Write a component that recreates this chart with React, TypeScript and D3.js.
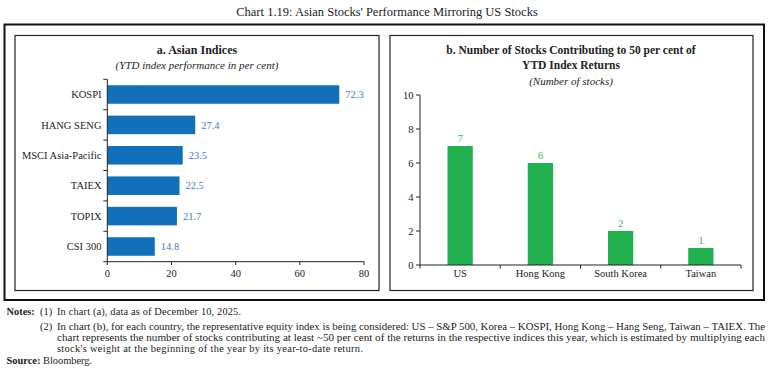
import React from 'react';
import * as d3 from 'd3';

const indexNames = ['KOSPI', 'HANG SENG', 'MSCI Asia-Pacific', 'TAIEX', 'TOPIX', 'CSI 300'];
const indexReturns = [72.3, 27.4, 23.5, 22.5, 21.7, 14.8];
const xTicksA = [0, 20, 40, 60, 80];

const countries = ['US', 'Hong Kong', 'South Korea', 'Taiwan'];
const stockCounts = [7, 6, 2, 1];
const yTicksB = [0, 2, 4, 6, 8, 10];

const FONT = '"Liberation Serif", "DejaVu Serif", serif';
const BLUE = '#1170B9';
const BLUE_LABEL = '#4679C2';
const GREEN = '#21B24F';
const GREEN_LABEL = '#3DB65C';
const INK = '#222';

export default function App() {
  // Panel a
  const xA = d3.scaleLinear().domain([0, 80]).range([107.3, 364]);
  const yA = d3.scaleBand<string>().domain(indexNames).range([79.3, 261.7]).paddingInner(0.39).paddingOuter(0.195);
  const stepA = yA.step();
  const boundariesA = d3.range(indexNames.length + 1).map((i) => 79.3 + i * stepA);

  // Panel b
  const xB = d3.scaleBand<string>().domain(countries).range([420, 741]).paddingInner(0.685).paddingOuter(0.3425);
  const stepB = xB.step();
  const boundariesB = d3.range(countries.length + 1).map((i) => 420 + i * stepB);
  const yB = d3.scaleLinear().domain([0, 10]).range([265, 95]);

  return (
    <svg width={771} height={377} style={{ position: 'absolute', left: 0, top: 0, background: '#fff' }} fontFamily={FONT}>
      <rect x={0} y={0} width={771} height={377} fill="#fff" />
      <text x={387} y={15.5} textAnchor="middle" fontSize={12.5} fill={INK}>
        Chart 1.19: Asian Stocks' Performance Mirroring US Stocks
      </text>
      {/* frames */}
      <rect x={4.5} y={24.5} width={759.5} height={275.5} fill="none" stroke="#111" strokeWidth={2} />
      <rect x={15} y={35.5} width={364} height={255} fill="none" stroke={INK} strokeWidth={1.2} />
      <rect x={390} y={35.5} width={363} height={255} fill="none" stroke={INK} strokeWidth={1.2} />

      {/* Panel a */}
      <text x={197} y={54} textAnchor="middle" fontSize={12} fontWeight="bold" fill={INK}>a. Asian Indices</text>
      <text x={197} y={68.5} textAnchor="middle" fontSize={11} fontStyle="italic" fill={INK}>(YTD index performance in per cent)</text>
      {indexNames.map((n, i) => (
        <g key={n}>
          <rect x={xA(0)} y={yA(n)!} width={xA(indexReturns[i]) - xA(0)} height={yA.bandwidth()} fill={BLUE} />
          <text x={xA(indexReturns[i]) + 6} y={yA(n)! + yA.bandwidth() / 2} dy="0.35em" fontSize={10.5} fill={BLUE_LABEL}>
            {indexReturns[i].toFixed(1)}
          </text>
          <text x={101.5} y={yA(n)! + yA.bandwidth() / 2} dy="0.35em" textAnchor="end" fontSize={10.5} fill={INK}>{n}</text>
        </g>
      ))}
      <line x1={xA(0)} x2={xA(0)} y1={79.3} y2={261.7} stroke={INK} strokeWidth={1} />
      {boundariesA.map((b, i) => (
        <line key={i} x1={xA(0) - 4} x2={xA(0)} y1={b} y2={b} stroke={INK} strokeWidth={1} />
      ))}
      <line x1={xA(0)} x2={xA(80)} y1={261.7} y2={261.7} stroke={INK} strokeWidth={1} />
      {xTicksA.map((t) => (
        <g key={t}>
          <line x1={xA(t)} x2={xA(t)} y1={261.7} y2={265} stroke={INK} strokeWidth={1} />
          <text x={xA(t)} y={277} textAnchor="middle" fontSize={10.5} fill={INK}>{t}</text>
        </g>
      ))}

      {/* Panel b */}
      <text x={571} y={54} textAnchor="middle" fontSize={11.5} fontWeight="bold" fill={INK}>
        b. Number of Stocks Contributing to 50 per cent of
      </text>
      <text x={571} y={69} textAnchor="middle" fontSize={11.5} fontWeight="bold" fill={INK}>YTD Index Returns</text>
      <text x={571} y={84.5} textAnchor="middle" fontSize={11} fontStyle="italic" fill={INK}>(Number of stocks)</text>
      {countries.map((c, i) => (
        <g key={c}>
          <rect x={xB(c)!} y={yB(stockCounts[i])} width={xB.bandwidth()} height={yB(0) - yB(stockCounts[i])} fill={GREEN} />
          <text x={xB(c)! + xB.bandwidth() / 2} y={yB(stockCounts[i]) - 4.5} textAnchor="middle" fontSize={11} fill={GREEN_LABEL}>
            {stockCounts[i]}
          </text>
          <text x={xB(c)! + xB.bandwidth() / 2} y={277} textAnchor="middle" fontSize={10.5} fill={INK}>{c}</text>
        </g>
      ))}
      <line x1={420} x2={420} y1={yB(10)} y2={yB(0)} stroke={INK} strokeWidth={1} />
      {yTicksB.map((t) => (
        <g key={t}>
          <line x1={416} x2={420} y1={yB(t)} y2={yB(t)} stroke={INK} strokeWidth={1} />
          <text x={413.5} y={yB(t)} dy="0.35em" textAnchor="end" fontSize={10.5} fill={INK}>{t}</text>
        </g>
      ))}
      <line x1={420} x2={741} y1={yB(0)} y2={yB(0)} stroke={INK} strokeWidth={1} />
      {boundariesB.map((b, i) => (
        <line key={i} x1={b} x2={b} y1={yB(0)} y2={yB(0) + 3.5} stroke={INK} strokeWidth={1} />
      ))}

      {/* Notes */}
      <g fontSize={10.4} fill={INK}>
        <text x={6.5} y={314.5} fontWeight="bold">Notes:</text>
        <text x={40} y={314.5}>(1)</text>
        <text x={57} y={314.5} textLength={184} lengthAdjust="spacing">In chart (a), data as of December 10, 2025.</text>
        <text x={40} y={329.5}>(2)</text>
        <text x={57} y={329.5} textLength={708} lengthAdjust="spacingAndGlyphs">
          In chart (b), for each country, the representative equity index is being considered: US – S&amp;P 500, Korea – KOSPI, Hong Kong – Hang Seng, Taiwan – TAIEX. The
        </text>
        <text x={57} y={341} textLength={708} lengthAdjust="spacingAndGlyphs">
          chart represents the number of stocks contributing at least ~50 per cent of the returns in the respective indices this year, which is estimated by multiplying each
        </text>
        <text x={57} y={352} textLength={306} lengthAdjust="spacing">stock's weight at the beginning of the year by its year-to-date return.</text>
        <text x={6.5} y={363.5}>
          <tspan fontWeight="bold">Source:</tspan> Bloomberg.
        </text>
      </g>
    </svg>
  );
}
